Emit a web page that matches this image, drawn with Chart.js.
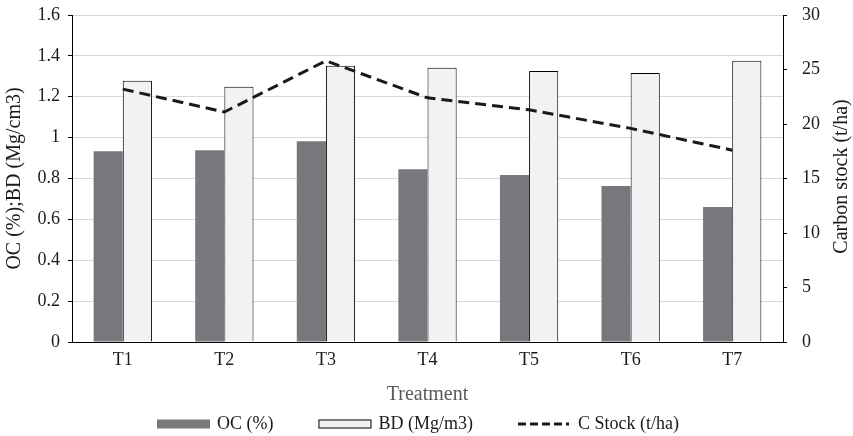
<!DOCTYPE html>
<html>
<head>
<meta charset="utf-8">
<script src="https://cdn.jsdelivr.net/npm/chart.js@4/dist/chart.umd.min.js"></script>
<style>
  html, body { margin: 0; padding: 0; background: #ffffff; }
  #wrap { width: 853px; height: 436px; position: relative; }
</style>
</head>
<body>
<div id="wrap"><canvas id="c" width="853" height="436"></canvas></div>
<script>
const categories = ['T1', 'T2', 'T3', 'T4', 'T5', 'T6', 'T7'];
const ocValues = [0.933, 0.938, 0.982, 0.845, 0.817, 0.763, 0.66];
const bdValues = [1.278, 1.249, 1.352, 1.342, 1.326, 1.316, 1.376];
const cStockValues = [23.2, 21.1, 25.8, 22.4, 21.3, 19.6, 17.6];
const leftTicks = [0, 0.2, 0.4, 0.6, 0.8, 1, 1.2, 1.4, 1.6];
const rightTicks = [0, 5, 10, 15, 20, 25, 30];

const FONT = "'Liberation Serif', 'Times New Roman', serif";

const customDecor = {
  id: 'customDecor',
  afterDraw(chart) {
    const ctx = chart.ctx;
    const area = chart.chartArea;
    // right axis title (reads bottom to top)
    ctx.save();
    ctx.fillStyle = '#1a1a1a';
    ctx.font = '20px ' + FONT;
    ctx.textAlign = 'center';
    ctx.textBaseline = 'middle';
    ctx.translate(842, (area.top + area.bottom) / 2 - 2);
    ctx.rotate(-Math.PI / 2);
    ctx.fillText('Carbon stock (t/ha)', 0, 0);
    ctx.restore();

    // legend
    ctx.save();
    ctx.font = '18px ' + FONT;
    ctx.textBaseline = 'middle';
    ctx.textAlign = 'left';
    const ds = chart.data.datasets;
    const yC = 424;
    const boxW = 53, boxH = 9, gap = 7, spacing = 45;
    let x = 157;
    ds.forEach((d) => {
      if (d.type === 'line') {
        ctx.save();
        ctx.strokeStyle = d.borderColor;
        ctx.lineWidth = 3;
        ctx.setLineDash([8, 4]);
        ctx.beginPath();
        ctx.moveTo(x, yC);
        ctx.lineTo(x + boxW - 2, yC);
        ctx.stroke();
        ctx.restore();
      } else {
        ctx.fillStyle = d.backgroundColor;
        ctx.fillRect(x, yC - boxH / 2, boxW, boxH);
        if (d.borderWidth) {
          ctx.strokeStyle = d.borderColor;
          ctx.lineWidth = 1;
          ctx.strokeRect(x + 0.5, yC - boxH / 2 + 0.5, boxW - 1, boxH - 1);
        }
      }
      ctx.fillStyle = '#1a1a1a';
      const tx = x + boxW + gap;
      ctx.fillText(d.label, tx, yC);
      x = tx + ctx.measureText(d.label).width + spacing;
    });
    ctx.restore();
  }
};

new Chart(document.getElementById('c'), {
  data: {
    labels: categories,
    datasets: [
      {
        type: 'bar',
        label: 'OC (%)',
        data: ocValues,
        backgroundColor: '#77787b',
        borderWidth: 0,
        yAxisID: 'y',
        order: 2,
        categoryPercentage: 0.574,
        barPercentage: 1.0
      },
      {
        type: 'bar',
        label: 'BD (Mg/m3)',
        data: bdValues,
        backgroundColor: '#f1f2f4',
        borderColor: '#000000',
        borderWidth: 1,
        borderSkipped: 'bottom',
        yAxisID: 'y',
        order: 2,
        categoryPercentage: 0.574,
        barPercentage: 1.0
      },
      {
        type: 'line',
        label: 'C Stock (t/ha)',
        data: cStockValues,
        borderColor: '#1a1a1a',
        backgroundColor: '#1a1a1a',
        borderWidth: 3,
        borderDash: [11, 6],
        pointRadius: 0,
        tension: 0,
        fill: false,
        yAxisID: 'y1',
        order: 0
      }
    ]
  },
  options: {
    responsive: false,
    animation: false,
    devicePixelRatio: 1,
    layout: { padding: { top: 15, left: 0, right: 0, bottom: 0 } },
    plugins: {
      legend: { display: false },
      tooltip: { enabled: false },
      title: { display: false }
    },
    scales: {
      x: {
        grid: { display: false, drawTicks: false },
        border: { display: true, color: '#000000', width: 1 },
        ticks: {
          color: '#1a1a1a',
          font: { family: FONT, size: 18 },
          padding: 7,
          maxRotation: 0
        },
        title: {
          display: true,
          text: 'Treatment',
          color: '#595959',
          font: { family: FONT, size: 20 },
          padding: { top: 0, bottom: 29 }
        },
        afterFit(scale) { scale.height = 94; scale.paddingLeft = 0; scale.paddingRight = 0; }
      },
      y: {
        position: 'left',
        min: 0,
        max: 1.6,
        afterBuildTicks(scale) { scale.ticks = leftTicks.map(v => ({ value: v })); },
        grid: {
          color: '#d9d9d9',
          lineWidth: 1,
          drawTicks: true,
          tickLength: 4,
          tickColor: '#000000'
        },
        border: { display: true, color: '#000000', width: 1 },
        ticks: {
          color: '#1a1a1a',
          font: { family: FONT, size: 18 },
          padding: 8,
          callback: (v) => String(Math.round(v * 10) / 10)
        },
        title: {
          display: true,
          text: 'OC (%);BD (Mg/cm3)',
          color: '#1a1a1a',
          font: { family: FONT, size: 20 },
          padding: { top: 3, bottom: 0 }
        },
        afterFit(scale) { scale.width = 72; scale.paddingTop = 0; scale.paddingBottom = 0; }
      },
      y1: {
        position: 'right',
        min: 0,
        max: 30,
        afterBuildTicks(scale) { scale.ticks = rightTicks.map(v => ({ value: v })); },
        grid: {
          drawOnChartArea: false,
          drawTicks: true,
          tickLength: 4,
          tickColor: '#000000'
        },
        border: { display: true, color: '#000000', width: 1 },
        ticks: {
          color: '#1a1a1a',
          font: { family: FONT, size: 18 },
          padding: 15
        },
        title: { display: false },
        afterFit(scale) { scale.width = 70; scale.paddingTop = 0; scale.paddingBottom = 0; }
      }
    }
  },
  plugins: [customDecor]
});
</script>
</body>
</html>
